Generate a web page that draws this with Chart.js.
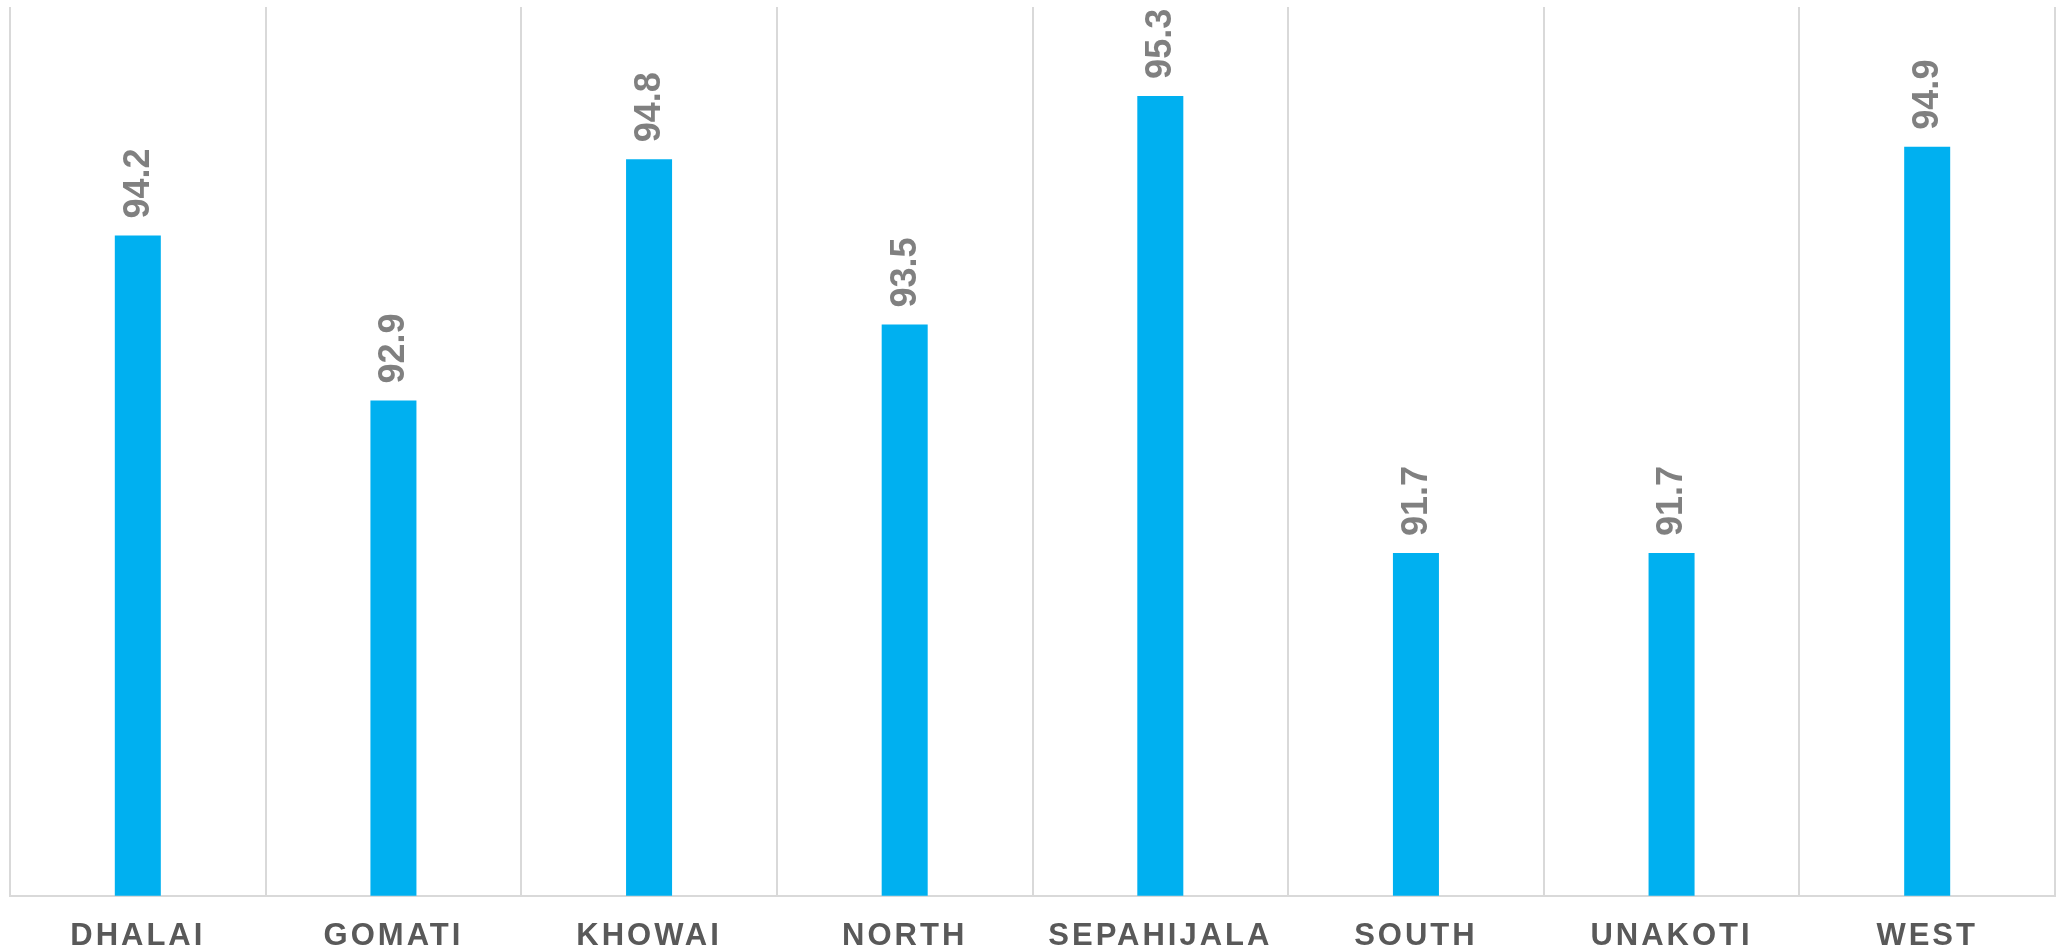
<!DOCTYPE html>
<html>
<head>
<meta charset="utf-8">
<script src="https://cdn.jsdelivr.net/npm/chart.js@4.4.0/dist/chart.umd.min.js"></script>
<style>
  html, body { margin: 0; padding: 0; background: #ffffff; }
  canvas { display: block; }
</style>
</head>
<body>
<canvas id="c" width="2067" height="952"></canvas>
<script>
const categories = ["DHALAI", "GOMATI", "KHOWAI", "NORTH", "SEPAHIJALA", "SOUTH", "UNAKOTI", "WEST"];
const values = [94.2, 92.9, 94.8, 93.5, 95.3, 91.7, 91.7, 94.9];
const yMin = 89;
const yMax = 96;

const FONT = "'Liberation Sans', Arial, sans-serif";

const spacingPlugin = {
  id: 'spacing',
  beforeDraw(chart) { chart.ctx.letterSpacing = '3px'; },
  beforeUpdate(chart) { chart.ctx.letterSpacing = '3px'; }
};

const labelPlugin = {
  id: 'barLabels',
  afterDatasetsDraw(chart) {
    const ctx = chart.ctx;
    ctx.save();
    ctx.letterSpacing = '0px';
    ctx.font = "bold 36px " + FONT;
    ctx.fillStyle = '#808080';
    ctx.textAlign = 'left';
    ctx.textBaseline = 'middle';
    const meta = chart.getDatasetMeta(0);
    meta.data.forEach((bar, i) => {
      ctx.save();
      ctx.translate(bar.x, bar.y - 17);
      ctx.rotate(-Math.PI / 2);
      ctx.fillText(values[i].toFixed(1), 0, 1);
      ctx.restore();
    });
    ctx.restore();
  }
};

new Chart(document.getElementById('c'), {
  type: 'bar',
  data: {
    labels: categories,
    datasets: [{
      data: values,
      backgroundColor: '#00B0F0',
      borderWidth: 0,
      barPercentage: 0.18,
      categoryPercentage: 1.0
    }]
  },
  options: {
    responsive: false,
    animation: false,
    devicePixelRatio: 1,
    layout: { padding: { left: 10, right: 12, top: 7, bottom: -25 } },
    plugins: { legend: { display: false }, tooltip: { enabled: false } },
    scales: {
      x: {
        offset: true,
        grid: { display: true, offset: true, color: '#d9d9d9', lineWidth: 2, drawTicks: false },
        border: { display: true, color: '#d9d9d9', width: 2 },
        ticks: {
          color: '#595959',
          padding: 22,
          font: { family: FONT, size: 31, weight: 'bold' },
          maxRotation: 0,
          autoSkip: false
        }
      },
      y: {
        display: false,
        min: yMin,
        max: yMax
      }
    }
  },
  plugins: [spacingPlugin, labelPlugin]
});
</script>
</body>
</html>
